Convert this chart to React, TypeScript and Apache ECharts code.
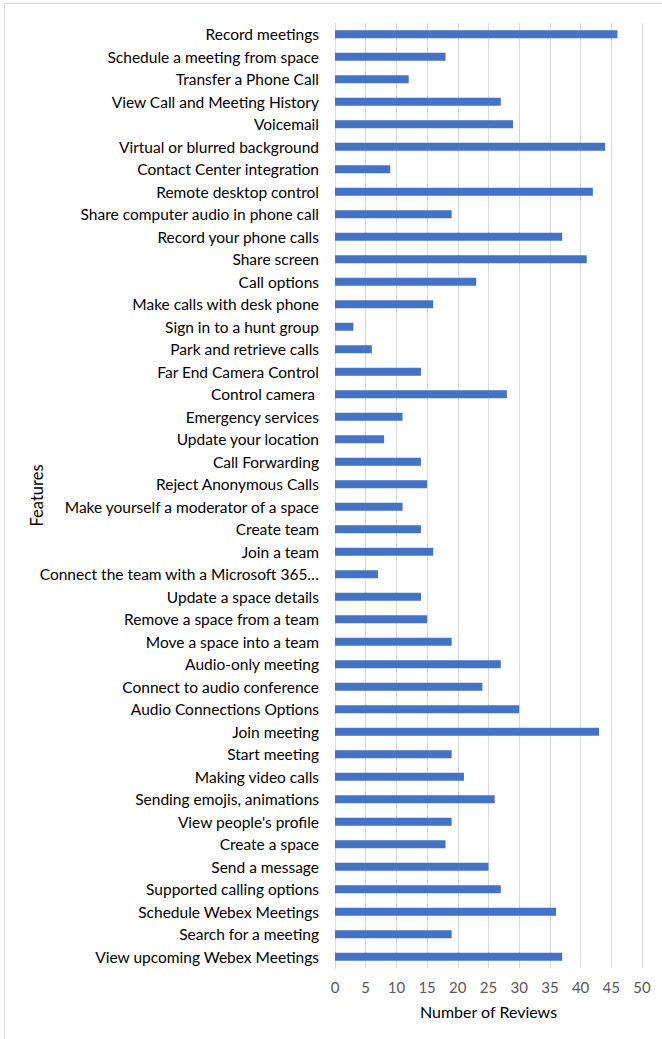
import React, { useEffect, useRef } from "react";
import * as echarts from "echarts";

const categories: string[] = [
  "Record meetings",
  "Schedule a meeting from space",
  "Transfer a Phone Call",
  "View Call and Meeting History",
  "Voicemail",
  "Virtual or blurred background",
  "Contact Center integration",
  "Remote desktop control",
  "Share computer audio in phone call",
  "Record your phone calls",
  "Share screen",
  "Call options",
  "Make calls with desk phone",
  "Sign in to a hunt group",
  "Park and retrieve calls",
  "Far End Camera Control",
  "Control camera ",
  "Emergency services",
  "Update your location",
  "Call Forwarding",
  "Reject Anonymous Calls",
  "Make yourself a moderator of a space",
  "Create team",
  "Join a team",
  "Connect the team with a Microsoft 365…",
  "Update a space details",
  "Remove a space from a team",
  "Move a space into a team",
  "Audio-only meeting",
  "Connect to audio conference",
  "Audio Connections Options",
  "Join meeting",
  "Start meeting",
  "Making video calls",
  "Sending emojis, animations",
  "View people's profile",
  "Create a space",
  "Send a message",
  "Supported calling options",
  "Schedule Webex Meetings",
  "Search for a meeting",
  "View upcoming Webex Meetings",
];

const reviews: number[] = [
  46, 18, 12, 27, 29, 44, 9, 42, 19, 37, 41, 23, 16, 3, 6, 14, 28, 11, 8, 14,
  15, 11, 14, 16, 7, 14, 15, 19, 27, 24, 30, 43, 19, 21, 26, 19, 18, 25, 27,
  36, 19, 37,
];

const xTicks = { min: 0, max: 50, interval: 5 };
const xAxisTitle = "Number of Reviews";
const yAxisTitle = "Features";

export default function App() {
  const ref = useRef<HTMLDivElement>(null);
  useEffect(() => {
    document.body.style.margin = "0";
    const chart = echarts.init(ref.current!, null, { renderer: "svg" });
    const font = "Lato, 'Open Sans', sans-serif";
    chart.setOption({
      animation: false,
      backgroundColor: "#ffffff",
      graphic: [
        {
          type: "rect",
          shape: { x: 4.5, y: 3.5, width: 800, height: 1200 },
          style: { fill: "none", stroke: "#d9d9d9", lineWidth: 1 },
          silent: true,
          z: -1,
        },
      ],
      grid: { left: 335, right: 20, top: 23, bottom: 71, containLabel: false },
      xAxis: {
        type: "value",
        min: xTicks.min,
        max: xTicks.max,
        interval: xTicks.interval,
        axisLine: { show: false },
        axisTick: { show: false },
        splitLine: { show: true, lineStyle: { color: "#d9d9d9", width: 1 } },
        axisLabel: { color: "#595959", fontSize: 15, fontFamily: font, margin: 11 },
        name: xAxisTitle,
        nameLocation: "middle",
        nameGap: 35,
        nameMoveOverlap: false,
        nameTextStyle: { color: "#000000", fontSize: 16, fontFamily: font },
      },
      yAxis: {
        type: "category",
        data: categories,
        inverse: true,
        axisLine: { show: true, lineStyle: { color: "#d9d9d9" } },
        axisTick: { show: false },
        axisLabel: {
          color: "#000000",
          fontSize: 15.5,
          fontFamily: font,
          margin: 16,
          interval: 0,
        },
        name: yAxisTitle,
        nameLocation: "middle",
        nameGap: 290,
        nameRotate: 90,
        nameMoveOverlap: false,
        nameTextStyle: { color: "#000000", fontSize: 16.5, fontFamily: font },
      },
      series: [
        {
          type: "bar",
          data: reviews,
          barWidth: 8,
          itemStyle: { color: "#4472C4" },
        },
      ],
    });
    return () => chart.dispose();
  }, []);
  return <div ref={ref} style={{ width: 662, height: 1039 }} />;
}
